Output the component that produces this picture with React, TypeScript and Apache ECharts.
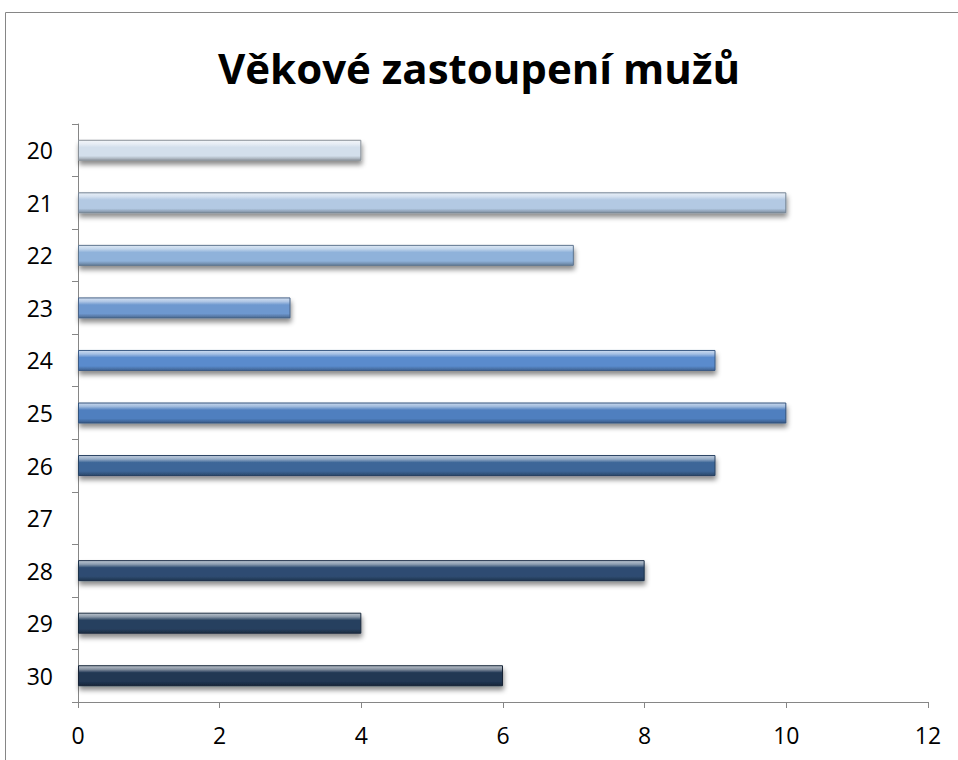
import React, { useEffect, useRef } from "react";
import * as echarts from "echarts";

const title = "Věkové zastoupení mužů";
const ages = ["20", "21", "22", "23", "24", "25", "26", "27", "28", "29", "30"];
const counts = [4, 10, 7, 3, 9, 10, 9, 0, 8, 4, 6];
const barColors = [
  "#d3dfec",
  "#b3c9e3",
  "#8fb2da",
  "#6e98cf",
  "#5a8bcd",
  "#4f7fbf",
  "#3d6698",
  "#345883",
  "#2e4c72",
  "#27415f",
  "#213753",
];

function lighten(hex: string, amt: number) {
  const n = parseInt(hex.slice(1), 16);
  const r = (n >> 16) & 255, g = (n >> 8) & 255, b = n & 255;
  const f = (c: number) => Math.round(c + (255 - c) * amt);
  return `rgb(${f(r)},${f(g)},${f(b)})`;
}
function darken(hex: string, amt: number) {
  const n = parseInt(hex.slice(1), 16);
  const r = (n >> 16) & 255, g = (n >> 8) & 255, b = n & 255;
  const f = (c: number) => Math.round(c * (1 - amt));
  return `rgb(${f(r)},${f(g)},${f(b)})`;
}

export default function App() {
  const ref = useRef<HTMLDivElement>(null);
  useEffect(() => {
    if (!ref.current) return;
    const chart = echarts.init(ref.current, undefined, { renderer: "svg" });
    const font = "'Open Sans', 'Noto Sans', sans-serif";
    chart.setOption({
      animation: false,
      backgroundColor: "#ffffff",
      title: {
        text: title,
        left: "center",
        top: 41,
        textStyle: { fontFamily: font, fontSize: 42, fontWeight: "bold", color: "#000" },
      },
      graphic: [
        {
          type: "rect",
          shape: { x: 5.5, y: 12.5, width: 970, height: 800 },
          style: { fill: "none", stroke: "#868686", lineWidth: 1 },
          silent: true,
        },
      ],
      grid: { left: 78, right: 30, top: 124, bottom: 58, containLabel: false },
      xAxis: {
        type: "value",
        min: 0,
        max: 12,
        interval: 2,
        splitLine: { show: false },
        axisLine: { show: true, lineStyle: { color: "#868686", width: 1 } },
        axisTick: { show: true, length: 6, lineStyle: { color: "#868686" } },
        axisLabel: { fontFamily: font, fontSize: 23, color: "#000", margin: 21 },
      },
      yAxis: {
        type: "category",
        data: ages,
        inverse: true,
        axisLine: { show: true, lineStyle: { color: "#868686", width: 1 } },
        axisTick: { show: true, length: 6, lineStyle: { color: "#868686" } },
        axisLabel: { fontFamily: font, fontSize: 23, color: "#000", margin: 25 },
      },
      series: [
        {
          type: "bar",
          barWidth: 21,
          data: counts.map((v, i) => ({
            value: v,
            itemStyle: {
              color: new echarts.graphic.LinearGradient(0, 0, 0, 1, [
                { offset: 0, color: lighten(barColors[i], 0.7) },
                { offset: 0.18, color: lighten(barColors[i], 0.45) },
                { offset: 0.35, color: barColors[i] },
                { offset: 0.78, color: barColors[i] },
                { offset: 1, color: darken(barColors[i], 0.3) },
              ]),
              borderColor: v === 0 ? "transparent" : darken(barColors[i], 0.35),
              borderWidth: v === 0 ? 0 : 1,
              shadowColor: v === 0 ? "transparent" : "rgba(0,0,0,0.45)",
              shadowBlur: 5,
              shadowOffsetX: 1,
              shadowOffsetY: 4,
            },
          })),
        },
      ],
    });
    return () => chart.dispose();
  }, []);
  return <div ref={ref} style={{ width: 958, height: 760, position: "absolute", left: 0, top: 0 }} />;
}
